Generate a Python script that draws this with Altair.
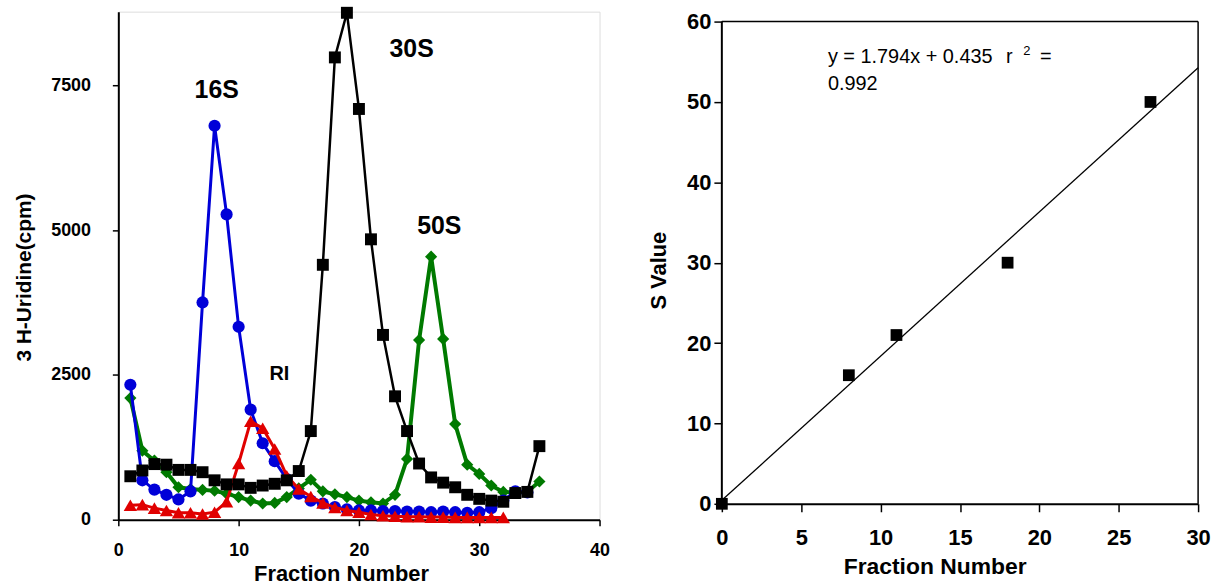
import altair as alt
import pandas as pd

# ---------------- Left panel data (fraction number vs 3H-uridine cpm) ----------------
fractions = list(range(1, 36))
blue_cpm = [2330, 680, 520, 430, 350, 490, 3750, 6800, 5270, 3330,
            1900, 1320, 1010, 700, 450, 330, 280, 220, 180, 160,
            160, 150, 150, 140, 140, 130, 140, 130, 120, 130,
            200, 330, 490, 470]
red_cpm = [250, 260, 200, 160, 120, 120, 100, 130, 310, 970,
           1700, 1580, 1220, 760, 530, 400, 290, 210, 160, 130,
           90, 70, 60, 50, 50, 45, 45, 40, 40, 40,
           40, 40]
green_cpm = [2100, 1190, 1020, 820, 560, 530, 515, 500, 450, 390,
             330, 280, 290, 390, 540, 690, 490, 440, 390, 330,
             300, 280, 430, 1050, 3100, 4540, 3120, 1650, 950, 790,
             590, 480, 470, 480, 660]
black_cpm = [750, 850, 960, 950, 860, 860, 820, 680, 610, 610,
             550, 590, 620, 680, 840, 1530, 4400, 7980, 8750, 7090,
             4840, 3190, 2130, 1530, 970, 730, 640, 560, 430, 360,
             330, 310, 460, 480, 1270]

left_x_ticks = [0, 10, 20, 30, 40]
left_y_ticks = [0, 2500, 5000, 7500]

# ---------------- Right panel data (fraction number vs S value) ----------------
s_fraction = [0, 8, 11, 18, 27]
s_value = [0, 16, 21, 30, 50]
fit_fraction = [0, 30]
fit_s = [0.435, 54.255]
right_x_ticks = [0, 5, 10, 15, 20, 25, 30]
right_y_ticks = [0, 10, 20, 30, 40, 50, 60]

FONT = "Liberation Sans"


def series_df(vals):
    return pd.DataFrame({"fraction": fractions[:len(vals)], "cpm": vals})


xL = alt.X("fraction:Q",
           scale=alt.Scale(domain=[0, 40], nice=False, zero=False),
           axis=alt.Axis(values=left_x_ticks, title="Fraction Number", labelFlush=False,
                         labelFontSize=18, labelFontWeight="bold", tickSize=6,
                         labelPadding=16, titleFontSize=22, titleFontWeight="bold",
                         titlePadding=4, titleX=224, grid=False,
                         domainColor="black", domainWidth=2, tickColor="black",
                         tickWidth=1.5, labelColor="black", titleColor="black",
                         labelFont=FONT, titleFont=FONT))
yL = alt.Y("cpm:Q",
           scale=alt.Scale(domain=[0, 8770], nice=False),
           axis=alt.Axis(values=left_y_ticks, format="d", title="3 H-Uridine(cpm)",
                         labelFlush=False,
                         labelFontSize=18, labelFontWeight="bold", tickSize=6,
                         labelPadding=22, titleFontSize=21, titleFontWeight="bold",
                         titlePadding=16, titleY=267, grid=False,
                         domainColor="black", domainWidth=2, tickColor="black",
                         tickWidth=1.5, labelColor="black", titleColor="black",
                         labelFont=FONT, titleFont=FONT))

series_specs = [
    (green_cpm, "#007a00", "diamond", 4, 150),
    (blue_cpm, "#0000d8", "circle", 3, 150),
    (red_cpm, "#e00000", "triangle-up", 3, 180),
    (black_cpm, "#000000", "square", 2.5, 144),
]

layers = []
for vals, col, shp, sw, sz in series_specs:
    base = alt.Chart(series_df(vals))
    layers.append(base.mark_line(color=col, strokeWidth=sw).encode(x=xL, y=yL))
    layers.append(base.mark_point(shape=shp, filled=True, size=sz, color=col,
                                  opacity=1).encode(x=xL, y=yL))


def label(txt, x, y, fs):
    return alt.Chart().mark_text(text=txt, font=FONT, fontSize=fs, fontWeight="bold",
                                 align="center", baseline="alphabetic",
                                 color="black").encode(x=alt.datum(x), y=alt.datum(y))


layers += [
    label("16S", 8.18, 7282, 25),
    label("30S", 24.38, 7980, 25),
    label("50S", 26.68, 4937, 25),
    label("RI", 13.39, 2420, 20),
]

left = alt.layer(*layers).properties(width=484, height=511)

# ---------------- Right panel ----------------
# plot area is drawn 10px taller than the framed region so that its frame starts lower
R_TOP = 60 * 495 / 485
xR = alt.X("f:Q", scale=alt.Scale(domain=[0, 30], nice=False),
           axis=alt.Axis(values=right_x_ticks, title="Fraction Number", labelFlush=False,
                         labelFontSize=22, labelFontWeight="bold", tickSize=8,
                         labelPadding=16, titleFontSize=23, titleFontWeight="bold",
                         titlePadding=7, titleX=214, grid=False,
                         domainColor="black", domainWidth=2, tickColor="black",
                         tickWidth=1.5, labelColor="black", titleColor="black",
                         labelFont=FONT, titleFont=FONT))
yR = alt.Y("s:Q", scale=alt.Scale(domain=[0, R_TOP], nice=False),
           axis=alt.Axis(values=right_y_ticks, title="S Value", domain=False,
                         labelFlush=False,
                         labelFontSize=22, labelFontWeight="bold", tickSize=8,
                         labelPadding=3, titleFontSize=22, titleFontWeight="bold",
                         titlePadding=16, titleY=260, grid=False,
                         tickColor="black",
                         tickWidth=1.5, labelColor="black", titleColor="black",
                         labelFont=FONT, titleFont=FONT))

frame_left = alt.Chart().mark_rule(color="black", strokeWidth=2).encode(
    x=alt.datum(0), y=alt.datum(0), y2=alt.datum(60))
frame_top = alt.Chart().mark_rule(color="black", strokeWidth=1.5).encode(
    x=alt.datum(0), x2=alt.datum(30), y=alt.datum(60))
frame_right = alt.Chart().mark_rule(color="black", strokeWidth=1.5).encode(
    x=alt.datum(30), y=alt.datum(0), y2=alt.datum(60))

fit_line = alt.Chart(pd.DataFrame({"f": fit_fraction, "s": fit_s})).mark_line(
    color="black", strokeWidth=1.3).encode(x=xR, y=yR)
pts = alt.Chart(pd.DataFrame({"f": s_fraction, "s": s_value})).mark_point(
    shape="square", filled=True, size=140, color="black", opacity=1).encode(x=xR, y=yR)


def note(txt, x, y, fs):
    return alt.Chart().mark_text(text=txt, font=FONT, fontSize=fs, align="left",
                                 baseline="alphabetic", color="black").encode(
        x=alt.datum(x), y=alt.datum(y))


right = alt.layer(
    fit_line, frame_left, frame_top, frame_right, pts,
    note("y = 1.794x + 0.435", 6.68, 54.8, 20),
    note("r", 17.9, 54.8, 20),
    note("2", 18.98, 55.8, 13),
    note("=", 20.04, 54.8, 20),
    note("0.992", 6.68, 51.47, 20),
).properties(width=479, height=495, view=alt.ViewBackground(strokeOpacity=0))

chart = alt.hconcat(left, right, spacing=37).properties(
    padding={"left": 13, "top": 4, "right": 5, "bottom": 5}
).configure_view(stroke="black", strokeWidth=1.5).configure(
    font=FONT, background="white")

chart.save("out.html", embed_options={"renderer": "svg", "actions": False})
